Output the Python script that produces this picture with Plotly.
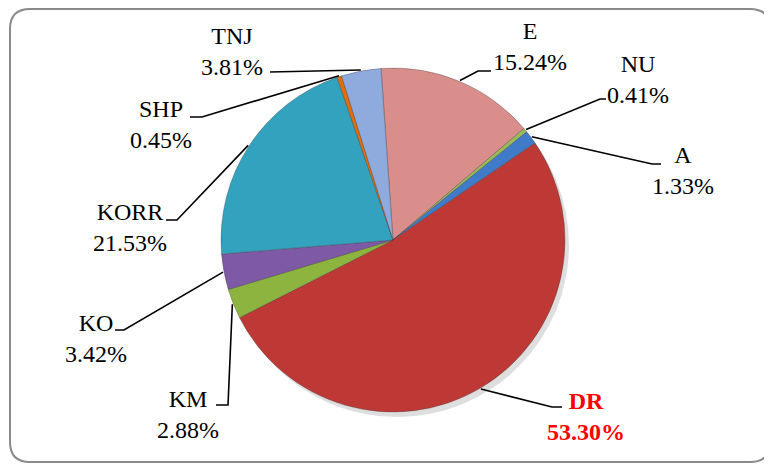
import math
import plotly.graph_objects as go

# ---- data ----
labels = ["E", "NU", "A", "DR", "KM", "KO", "KORR", "SHP", "TNJ"]
values = [15.24, 0.41, 1.33, 53.30, 2.88, 3.42, 21.53, 0.45, 3.81]
pct_text = ["15.24%", "0.41%", "1.33%", "53.30%", "2.88%", "3.42%", "21.53%", "0.45%", "3.81%"]

colors = ["#D98E8C", "#9BBB59", "#3F7BC8", "#BE3936", "#8DB43E",
          "#7E5AA6", "#33A2BE", "#E46C0A", "#8FAADC"]

# ---- geometry (pixels, in page coordinates) ----
OFF = 8                 # default body margin of the html page
W, H = 772 - OFF, 464 - OFF
CX, CY, R = 393, 240, 172
ROT = -4  # degrees, first slice start (clockwise from 12 o'clock)


def pp(x, y):
    return (x - OFF) / W, 1 - (y - OFF) / H


# label block centres and leader-line elbows / ends (pixels)
label_layout = {
    "E":    dict(pos=(530, 46),  elbow=(478, 71),  end=(491, 71)),
    "NU":   dict(pos=(638, 79),  elbow=(600, 99),  end=(606, 99)),
    "A":    dict(pos=(683, 170), elbow=(652, 164), end=(661, 164)),
    "DR":   dict(pos=(586, 416), elbow=(552, 407), end=(562, 407)),
    "KM":   dict(pos=(188, 414), elbow=(228, 405), end=(216, 405)),
    "KO":   dict(pos=(96, 338),  elbow=(124, 330), end=(115, 330)),
    "KORR": dict(pos=(130, 228), elbow=(177, 220), end=(166, 220)),
    "SHP":  dict(pos=(161, 124), elbow=(202, 117), end=(190, 117)),
    "TNJ":  dict(pos=(232, 52),  elbow=(270, 72),  end=(270, 72)),
}

FONT = "Liberation Serif, DejaVu Serif, serif"

fig = go.Figure()

dx0, dy0 = pp(CX - R, CY + R)
dx1, dy1 = pp(CX + R, CY - R)

# soft shadow behind the pie
sx0, sy0 = pp(CX - R + 4, CY + R + 5)
sx1, sy1 = pp(CX + R + 4, CY - R + 5)
fig.add_trace(go.Pie(
    values=[1], marker=dict(colors=["rgba(0,0,0,0.13)"], line=dict(width=0)),
    textinfo="none", hoverinfo="skip", showlegend=False,
    domain=dict(x=[sx0, sx1], y=[sy0, sy1])))

fig.add_trace(go.Pie(
    labels=labels, values=values, sort=False, direction="clockwise",
    rotation=ROT, textinfo="none", hoverinfo="label+percent",
    showlegend=False,
    marker=dict(colors=colors, line=dict(color="rgba(60,60,60,0.35)", width=1)),
    domain=dict(x=[dx0, dx1], y=[dy0, dy1])))

shapes = []
annotations = []
total = sum(values)
cum = 0.0
for lab, v, t in zip(labels, values, pct_text):
    mid = math.radians(ROT + (cum + v / 2) / total * 360)
    cum += v
    ex = CX + (R + 1) * math.sin(mid)
    ey = CY - (R + 1) * math.cos(mid)
    spec = label_layout[lab]
    p0 = pp(ex, ey)
    p1 = pp(*spec["elbow"])
    p2 = pp(*spec["end"])
    shapes.append(dict(
        type="path", xref="paper", yref="paper",
        path=f"M {p0[0]},{p0[1]} L {p1[0]},{p1[1]} L {p2[0]},{p2[1]}",
        line=dict(color="black", width=1.6)))
    lx, ly = pp(*spec["pos"])
    if lab == "DR":
        txt = f"<b>{lab}<br>{t}</b>"
        col = "#FF0000"
    else:
        txt = f"{lab}<br>{t}"
        col = "black"
    annotations.append(dict(
        x=lx, y=ly, xref="paper", yref="paper", text=txt, showarrow=False,
        xanchor="center", yanchor="middle", align="center",
        font=dict(family=FONT, size=24, color=col)))

# rounded border
L, T, Rr, B, rad = 10, 9, 770, 462, 20
pts = [
    ("M", (L + rad, T)), ("L", (Rr - rad, T)), ("Q", (Rr, T), (Rr, T + rad)),
    ("L", (Rr, B - rad)), ("Q", (Rr, B), (Rr - rad, B)),
    ("L", (L + rad, B)), ("Q", (L, B), (L, B - rad)),
    ("L", (L, T + rad)), ("Q", (L, T), (L + rad, T)),
]
path = ""
for item in pts:
    cmd = item[0]
    coords = " ".join(f"{pp(*c)[0]},{pp(*c)[1]}" for c in item[1:])
    path += f"{cmd} {coords} "
path += "Z"
shapes.append(dict(type="path", xref="paper", yref="paper", path=path,
                   line=dict(color="#8A8A8A", width=2), layer="below"))

fig.update_layout(
    width=W, height=H, margin=dict(l=0, r=0, t=0, b=0),
    paper_bgcolor="white", plot_bgcolor="white",
    shapes=shapes, annotations=annotations,
    font=dict(family=FONT),
)

fig.write_html("out.html")
